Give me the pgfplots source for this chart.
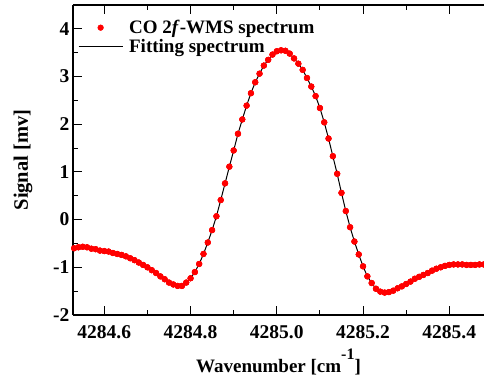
\documentclass[border=0pt]{standalone}
\usepackage{pgfplots}
\pgfplotsset{compat=1.18}
\usepackage{pgfplotstable}
\usepackage{fontspec}
\setmainfont{Liberation Serif}
\pgfplotsset{
  dotlegend/.style={legend image code/.code={\draw[mark repeat=2,mark phase=2,##1] plot coordinates {(0pt,0pt) (22pt,0pt) (44pt,0pt)};}},
  linelegend/.style={legend image code/.code={\draw[##1] (0pt,0pt) -- (44pt,0pt);}},
}
\pgfplotstableread{
x y
4284.53 -0.60
4284.54 -0.58
4284.55 -0.57
4284.56 -0.58
4284.57 -0.61
4284.58 -0.62
4284.59 -0.65
4284.60 -0.66
4284.61 -0.67
4284.62 -0.70
4284.63 -0.72
4284.64 -0.74
4284.65 -0.77
4284.66 -0.81
4284.67 -0.85
4284.68 -0.90
4284.69 -0.95
4284.70 -1.00
4284.71 -1.06
4284.72 -1.12
4284.73 -1.19
4284.74 -1.25
4284.75 -1.32
4284.76 -1.36
4284.77 -1.39
4284.78 -1.39
4284.79 -1.32
4284.80 -1.23
4284.81 -1.10
4284.82 -0.93
4284.83 -0.72
4284.84 -0.48
4284.85 -0.22
4284.86 0.07
4284.87 0.41
4284.88 0.76
4284.89 1.11
4284.90 1.45
4284.91 1.80
4284.92 2.10
4284.93 2.39
4284.94 2.65
4284.95 2.88
4284.96 3.06
4284.97 3.23
4284.98 3.35
4284.99 3.46
4285.00 3.53
4285.01 3.55
4285.02 3.54
4285.03 3.48
4285.04 3.38
4285.05 3.27
4285.06 3.14
4285.07 2.97
4285.08 2.79
4285.09 2.59
4285.10 2.34
4285.11 2.04
4285.12 1.70
4285.13 1.33
4285.14 0.96
4285.15 0.56
4285.16 0.18
4285.17 -0.16
4285.18 -0.46
4285.19 -0.73
4285.20 -0.98
4285.21 -1.19
4285.22 -1.33
4285.23 -1.45
4285.24 -1.51
4285.25 -1.53
4285.26 -1.52
4285.27 -1.49
4285.28 -1.44
4285.29 -1.40
4285.30 -1.35
4285.31 -1.30
4285.32 -1.24
4285.33 -1.20
4285.34 -1.16
4285.35 -1.12
4285.36 -1.07
4285.37 -1.03
4285.38 -1.00
4285.39 -0.97
4285.40 -0.95
4285.41 -0.94
4285.42 -0.94
4285.43 -0.94
4285.44 -0.95
4285.45 -0.95
4285.46 -0.95
4285.47 -0.94
4285.48 -0.94
}\datatable
\begin{document}
\begin{tikzpicture}
\begin{axis}[
  scale only axis,
  width=411pt, height=310pt,
  xmin=4284.5274, xmax=4285.4805,
  ymin=-2, ymax=4.5,
  axis x line*=box,
  axis y line*=left,
  axis line style={line width=1.1pt},
  every tick/.style={black, line width=0.9pt},
  tick align=inside,
  major tick length=9pt,
  minor tick length=5pt,
  xtick={4284.6,4284.8,4285.0,4285.2,4285.4},
  minor xtick={4284.7,4284.9,4285.1,4285.3},
  ytick={-2,-1,0,1,2,3,4},
  minor ytick={-1.5,-0.5,0.5,1.5,2.5,3.5,4.5},
  font=\fontsize{19}{22.8}\selectfont\bfseries,
  ticklabel style={font=\fontsize{19.5}{23}\selectfont\bfseries},
  /pgf/number format/assume math mode=true,
  xticklabel style={yshift=-7pt, /pgf/number format/.cd, fixed, fixed zerofill, precision=1, 1000 sep={}},
  yticklabel style={/pgf/number format/.cd, fixed, precision=0},
  xlabel={Wavenumber [cm\raisebox{13pt}{\fontsize{16}{16}\selectfont -1}]},
  ylabel={Signal [mv]},
  xlabel style={at={(axis description cs:0.5,-0.184)}, anchor=base},
  ylabel style={at={(axis description cs:-0.1095,0.5)}, anchor=base, font=\fontsize{20.5}{24}\selectfont\bfseries},
  legend style={draw=none, fill=none, at={(axis description cs:0.012,0.958)}, anchor=north west,
    inner sep=0pt, row sep=0pt, column sep=4pt, font=\fontsize{19}{22.8}\selectfont\bfseries},
  legend cell align=left,
]
\addplot[only marks, mark=*, mark size=2.9pt, red, fill=red, dotlegend]
  table[x=x,y=y] {\datatable};
\addlegendentry{CO 2\textit{f}-WMS spectrum}
\addplot[black, line width=1pt, linelegend]
  table[x=x,y=y] {\datatable};
\addlegendentry{Fitting spectrum}
\addplot[only marks, mark=*, mark size=2.9pt, red, fill=red, forget plot]
  table[x=x,y=y] {\datatable};
\end{axis}
\pgfresetboundingbox
\path[use as bounding box] ([shift={(-73pt,-68pt)}]current axis.south west) rectangle ([shift={(0pt,5pt)}]current axis.north east);
\end{tikzpicture}
\end{document}
